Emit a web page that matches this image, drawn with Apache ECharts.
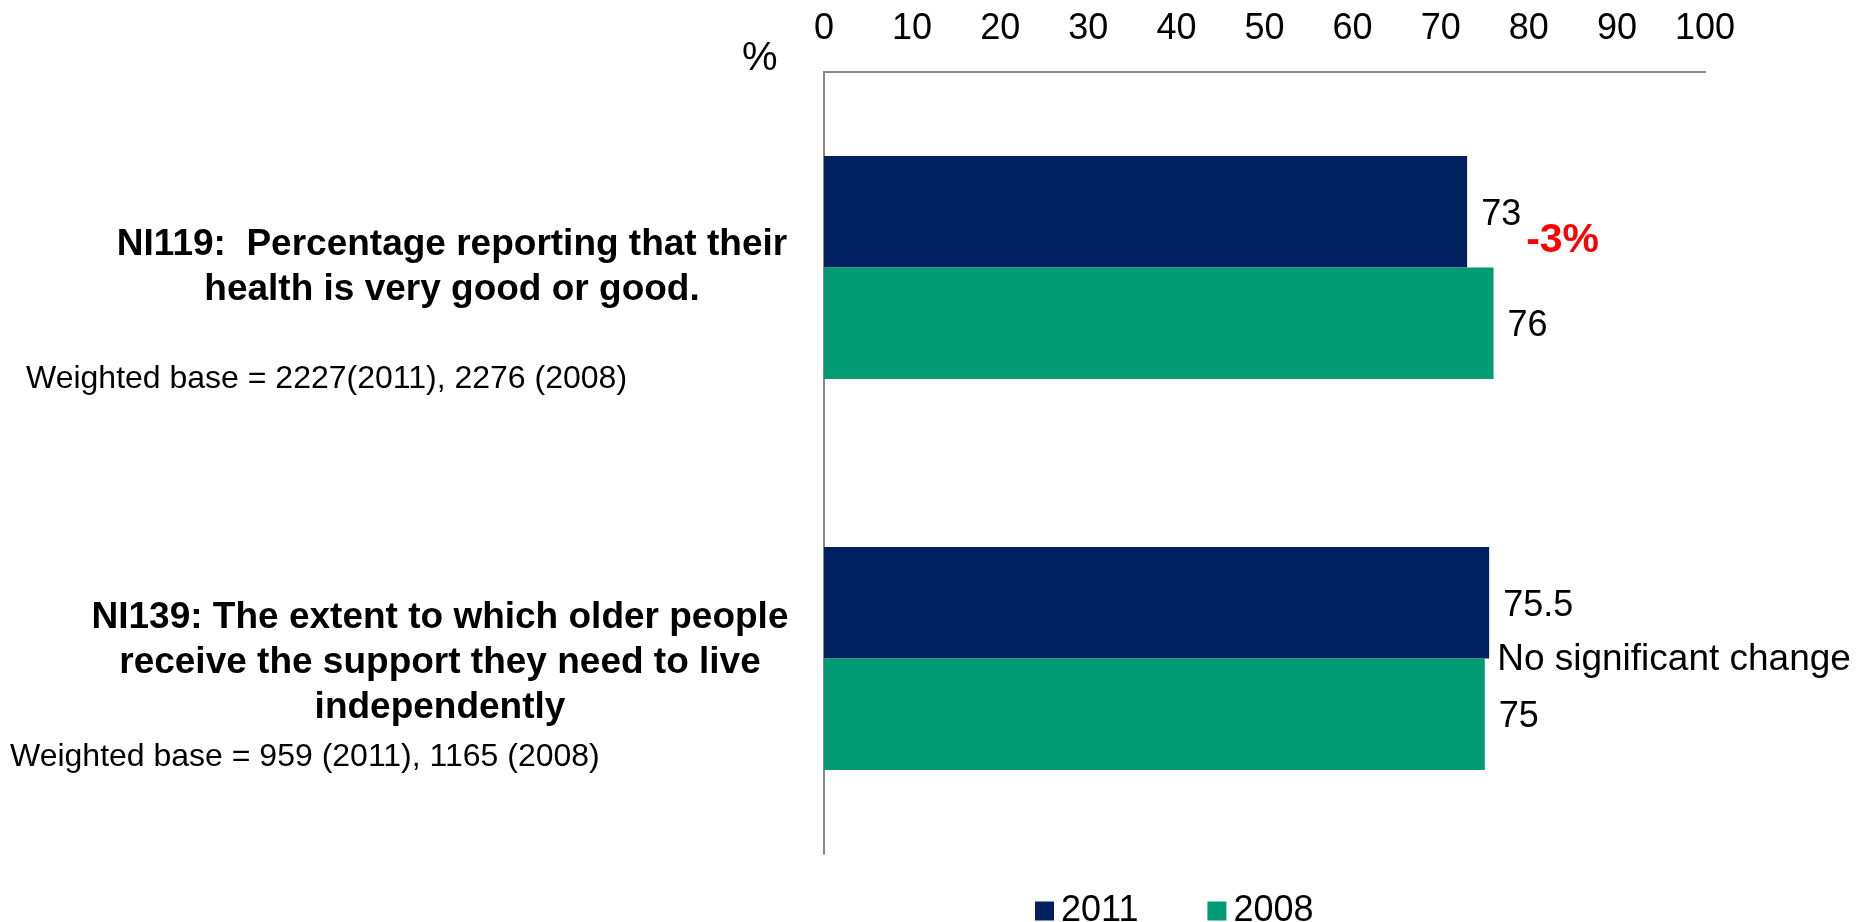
<!DOCTYPE html>
<html>
<head>
<meta charset="utf-8">
<script src="https://cdn.jsdelivr.net/npm/echarts@6/dist/echarts.min.js"></script>
<style>
  html, body { margin: 0; padding: 0; background: #fff; }
  #chart { width: 1872px; height: 922px; }
</style>
</head>
<body>
<div id="chart"></div>
<script>
// Indicator labels (top to bottom)
const categories = [
  'NI119:  Percentage reporting that their\nhealth is very good or good.',
  'NI139: The extent to which older people\nreceive the support they need to live\nindependently'
];
const baseNotes = [
  'Weighted base = 2227(2011), 2276 (2008)',
  'Weighted base = 959 (2011), 1165 (2008)'
];
const values2011 = [73, 75.5];
const values2008 = [76, 75];
const changeNotes = ['-3%', 'No significant change'];
const xTicks = [0, 10, 20, 30, 40, 50, 60, 70, 80, 90, 100];

const FONT = '"Liberation Sans", Arial, sans-serif';
const NAVY = '#002060';
const GREEN = '#009A73';

const catLabelStyle = {
  color: '#000', fontSize: 37, fontWeight: 'bold', fontFamily: FONT, lineHeight: 45
};
const valueLabel = {
  show: true, position: 'right', distance: 14, offset: [0, 3],
  color: '#000', fontSize: 36, fontFamily: FONT
};

const chart = echarts.init(document.getElementById('chart'));

chart.setOption({
  animation: false,
  backgroundColor: '#ffffff',
  textStyle: { fontFamily: FONT },
  grid: { left: 824, right: 167, top: 72, bottom: 68, containLabel: false },
  xAxis: {
    type: 'value',
    position: 'top',
    min: xTicks[0],
    max: xTicks[xTicks.length - 1],
    interval: 10,
    axisLine: { show: true, onZero: false, lineStyle: { color: '#868686', width: 2 } },
    axisTick: { show: false },
    splitLine: { show: false },
    axisLabel: { color: '#000', fontSize: 36, fontFamily: FONT, margin: 25 }
  },
  yAxis: {
    type: 'category',
    inverse: true,
    data: categories,
    axisLine: { show: true, lineStyle: { color: '#868686', width: 2 } },
    axisTick: { show: false },
    axisLabel: {
      align: 'center', margin: 384,
      formatter: (v, i) => (i === 0 ? '{a|' + v + '}' : '{b|' + v + '}'),
      rich: {
        a: Object.assign({ padding: [0, 0, 0, 24] }, catLabelStyle),
        b: Object.assign({ padding: [8, 0, 0, 0] }, catLabelStyle)
      }
    }
  },
  legend: {
    left: 1030, top: 888,
    itemWidth: 19, itemHeight: 19, itemGap: 69,
    icon: 'rect',
    textStyle: { color: '#000', fontSize: 36, fontFamily: FONT, padding: [0, 0, 0, 2] },
    data: ['2011', '2008']
  },
  series: [
    {
      name: '2011', type: 'bar', data: values2011,
      barGap: '0%', barCategoryGap: '43%',
      itemStyle: { color: NAVY },
      label: valueLabel,
      markPoint: {
        symbol: 'rect', symbolSize: 0,
        data: [
          {
            coord: [values2011[0], 0], value: changeNotes[0],
            label: { show: true, position: 'right', offset: [54, 29], formatter: changeNotes[0],
              color: '#FF0000', fontWeight: 'bold', fontSize: 41, fontFamily: FONT }
          },
          {
            coord: [values2011[1], 1], value: changeNotes[1],
            label: { show: true, position: 'right', offset: [3, 57], formatter: changeNotes[1],
              color: '#000', fontSize: 37, fontFamily: FONT }
          }
        ]
      }
    },
    {
      name: '2008', type: 'bar', data: values2008,
      itemStyle: { color: GREEN },
      label: valueLabel
    }
  ],
  graphic: [
    { type: 'text', left: 742, top: 39,
      style: { text: '%', fill: '#000', font: '40px ' + FONT } },
    { type: 'text', left: 26, top: 363,
      style: { text: baseNotes[0], fill: '#000', font: '32px ' + FONT } },
    { type: 'text', left: 10, top: 741,
      style: { text: baseNotes[1], fill: '#000', font: '32px ' + FONT } }
  ]
});
</script>
</body>
</html>
